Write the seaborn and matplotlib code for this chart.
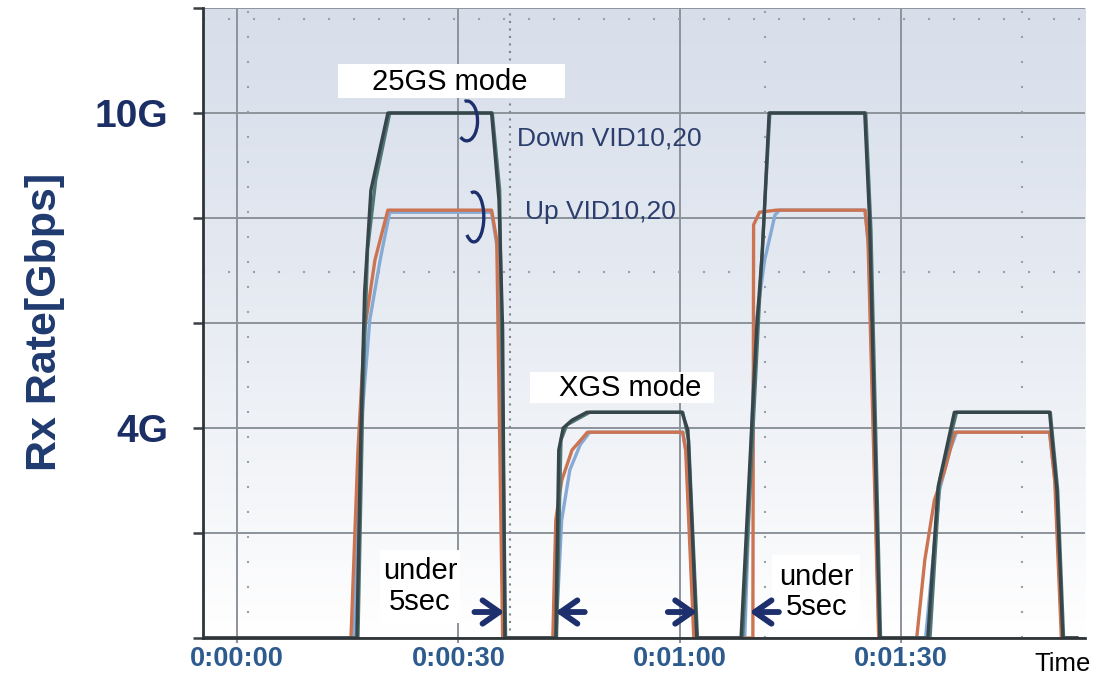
import numpy as np
import pandas as pd
import matplotlib
matplotlib.use("Agg")
import matplotlib.pyplot as plt
import seaborn as sns
from matplotlib.patches import Rectangle, Arc

# ---------------- data (time in seconds, rate in Gbps) ----------------
down10_t = [-4.5, 16.25, 16.8, 17.3, 18.15, 20.45, 34.5, 35.5, 36.0, 36.3,
            43.2, 43.6, 44.2, 45.4, 47.4, 60.3, 61.1, 62.3,
            68.3, 70.4, 71.2, 72.1, 85.06, 85.7, 87.1,
            93.6, 95.0, 97.2, 110.1, 111.1, 111.9, 113.9]
down10_v = [0, 0, 3.96, 6.6, 8.53, 10.0, 10.0, 8.34, 5.87, 0,
            0, 3.58, 4.0, 4.15, 4.3, 4.3, 3.96, 0,
            0, 5.87, 7.4, 10.0, 10.0, 8.0, 0,
            0, 2.88, 4.3, 4.3, 2.8, 0, 0]

down20_t = [-4.5, 16.4, 17.05, 17.7, 18.8, 20.7, 34.6, 35.6, 36.4,
            43.3, 43.9, 44.7, 47.8, 60.4, 61.2, 62.4,
            68.5, 70.8, 72.2, 85.2, 85.9, 87.2,
            93.9, 95.2, 97.5, 110.2, 111.2, 112.0, 113.9]
down20_v = [0, 0, 4.53, 7.4, 8.72, 10.0, 10.0, 8.53, 0,
            0, 3.77, 4.06, 4.3, 4.3, 3.77, 0,
            0, 6.44, 10.0, 10.0, 7.77, 0,
            0, 3.0, 4.3, 4.3, 2.82, 0, 0]

up10_t = [-4.5, 15.45, 16.4, 17.3, 18.7, 20.45, 34.5, 35.2, 36.0,
          42.8, 43.2, 44.0, 45.4, 47.5, 60.4, 60.8, 61.9,
          69.9, 70.0, 70.8, 73.1, 85.1, 85.5, 86.95,
          92.1, 93.2, 94.5, 95.9, 97.25, 110.1, 110.8, 111.7, 113.9]
up10_v = [0, 0, 3.58, 5.87, 7.2, 8.15, 8.15, 7.58, 0,
          0, 2.25, 3.0, 3.58, 3.92, 3.92, 3.58, 0,
          0, 7.87, 8.11, 8.15, 8.15, 7.58, 0,
          0, 1.49, 2.63, 3.2, 3.92, 3.92, 3.0, 0, 0]

up20_t = [-4.5, 15.85, 16.9, 18.0, 19.4, 20.7, 34.5, 35.3, 36.15,
          43.2, 44.0, 45.1, 46.5, 47.8, 60.4, 60.9, 62.0,
          68.8, 70.2, 71.5, 72.9, 73.5, 85.1, 85.6, 87.0,
          93.3, 94.3, 95.2, 96.6, 97.5, 110.1, 110.9, 111.8, 113.9]
up20_v = [0, 0, 4.15, 6.06, 7.2, 8.11, 8.11, 7.4, 0,
          0, 2.25, 3.2, 3.68, 3.92, 3.92, 3.5, 0,
          0, 5.87, 7.2, 8.06, 8.15, 8.15, 7.4, 0,
          0, 1.49, 2.82, 3.58, 3.92, 3.92, 2.9, 0, 0]

series_names = ["Up VID20", "Up VID10", "Down VID20", "Down VID10"]
series_colors = ["#86aad6", "#cc7451", "#4f7674", "#37464b"]

xtick_values = [0, 30, 60, 90]
xtick_labels = ["0:00:00", "0:00:30", "0:01:00", "0:01:30"]
ytick_values = [0, 2, 4, 6, 8, 10, 12]
ytick_labels = ["", "", "4G", "", "", "10G", ""]

dotted_x = [1.5, 71.5, 106.3]
dense_dotted_x = [37.0]
dotted_y = [6.97, 11.8]

# ---------------- build long table ----------------
frames = []
for name, t, v in [("Down VID10", down10_t, down10_v),
                   ("Down VID20", down20_t, down20_v),
                   ("Up VID10", up10_t, up10_v),
                   ("Up VID20", up20_t, up20_v)]:
    frames.append(pd.DataFrame({"time": t, "rate": v, "series": name}))
df = pd.concat(frames, ignore_index=True)

sns.set_theme(style="white")
plt.rcParams["font.family"] = ["Liberation Sans", "DejaVu Sans"]

fig = plt.figure(figsize=(11.11, 6.74), dpi=100)
ax = fig.add_axes([0.1827, 0.0534, 0.7939, 0.9347])

# gradient background
stops_y = [0.0, 0.12, 0.3, 0.5, 0.7, 0.85, 1.0]
stops_c = np.array([[1.0, 1.0, 1.0], [0.978, 0.981, 0.987], [0.945, 0.954, 0.970],
                    [0.91, 0.925, 0.953], [0.88, 0.902, 0.938],
                    [0.862, 0.886, 0.928], [0.845, 0.872, 0.918]])
ys = np.linspace(0, 1, 256)
grad = np.stack([np.interp(ys, stops_y, stops_c[:, k]) for k in range(3)], axis=-1)
grad = grad[::-1, None, :]
ax.imshow(grad, extent=[0, 1, 0, 1], transform=ax.transAxes, aspect="auto",
          zorder=0, interpolation="bilinear")

sns.lineplot(data=df, x="time", y="rate", hue="series", hue_order=series_names,
             palette=dict(zip(series_names, series_colors)), estimator=None,
             sort=False, linewidth=2.4, legend=False, ax=ax, zorder=3)

ax.set_xlim(-4.6, 114.9)
ax.set_ylim(0, 12)

# grid
ax.set_axisbelow(True)
ax.set_xticks(xtick_values)
ax.set_xticklabels(xtick_labels)
ax.set_yticks(ytick_values)
ax.set_yticklabels(ytick_labels)
ax.grid(True, color="#8d939b", linewidth=1.4, zorder=1)
for xv in dotted_x:
    ax.axvline(xv, color="#9aa0a8", linewidth=1.5, linestyle=(0, (1, 11)), zorder=1)
for xv in dense_dotted_x:
    ax.axvline(xv, color="#7f858d", linewidth=1.5, linestyle=(0, (1, 2.6)), zorder=1)
for yv in dotted_y:
    ax.axhline(yv, color="#9aa0a8", linewidth=1.5, linestyle=(0, (1, 11)), zorder=1)

for s in ["top", "right"]:
    ax.spines[s].set_visible(False)
for s in ["left", "bottom"]:
    ax.spines[s].set_color("#2f3438")
    ax.spines[s].set_linewidth(2)
    ax.spines[s].set_zorder(4)

ax.tick_params(axis="y", length=7, width=1.8, color="#3a3f44", pad=18,
               labelsize=28, labelcolor="#1b2f66", left=True)
ax.tick_params(axis="x", length=3.5, width=1.5, color="#8d939b", pad=2,
               labelsize=19.5, labelcolor="#2d5b8e", bottom=True)
for lab in ax.get_yticklabels():
    lab.set_fontweight("bold")
for lab in ax.get_xticklabels():
    lab.set_fontweight("bold")

ax.set_ylabel("Rx Rate[Gbps]", fontsize=31, fontweight="bold", color="#1f3a6f",
              va="center")
ax.yaxis.set_label_coords(-0.179, 0.5016)
ax.set_xlabel("Time", fontsize=18.5, color="black", va="center")
ax.xaxis.set_label_coords(0.975, -0.041)

# annotation boxes
ax.add_patch(Rectangle((13.7, 10.29), 30.7, 0.64, facecolor="white",
                       edgecolor="none", zorder=5))
ax.text(28.85, 10.6, "25GS mode", fontsize=21, color="black", ha="center",
        va="center", zorder=6)
ax.add_patch(Rectangle((39.7, 4.48), 25.0, 0.59, facecolor="white",
                       edgecolor="none", zorder=5))
ax.text(53.3, 4.76, "XGS mode", fontsize=21, color="black", ha="center",
        va="center", zorder=6)
ax.add_patch(Rectangle((19.37, 0.29), 10.83, 1.39, facecolor="white",
                       edgecolor="none", zorder=5))
ax.text(24.8, 0.98, "under\n5sec", fontsize=21, color="black", ha="center",
        va="center", linespacing=1.1, zorder=6)
ax.add_patch(Rectangle((72.46, 0.19), 11.9, 1.39, facecolor="white",
                       edgecolor="none", zorder=5))
ax.text(78.56, 0.88, "under\n5sec", fontsize=21, color="black", ha="center",
        va="center", linespacing=1.1, zorder=6)

navy = "#1d2f6d"
ax.text(37.9, 9.52, "Down VID10,20", fontsize=19, color="#2c3e6e",
        ha="left", va="center", zorder=6)
ax.text(39.0, 8.11, "Up VID10,20", fontsize=19, color="#2c3e6e",
        ha="left", va="center", zorder=6)
ax.add_patch(Arc((31.15, 9.85), 2.9, 0.76, theta1=200, theta2=130,
                 color=navy, linewidth=2.4, zorder=6))
ax.add_patch(Arc((32.1, 8.02), 2.7, 0.95, theta1=200, theta2=130,
                 color=navy, linewidth=2.4, zorder=6))

arrow_kw = dict(arrowstyle="->,head_length=0.6,head_width=0.42",
                color=navy, linewidth=4.2, mutation_scale=20)
for x0, x1 in [(31.8, 36.6), (47.5, 42.8), (58.0, 62.7), (73.8, 69.1)]:
    ax.annotate("", xy=(x1, 0.495), xytext=(x0, 0.495),
                arrowprops=arrow_kw, zorder=7)

fig.savefig("out.png", dpi=100)
